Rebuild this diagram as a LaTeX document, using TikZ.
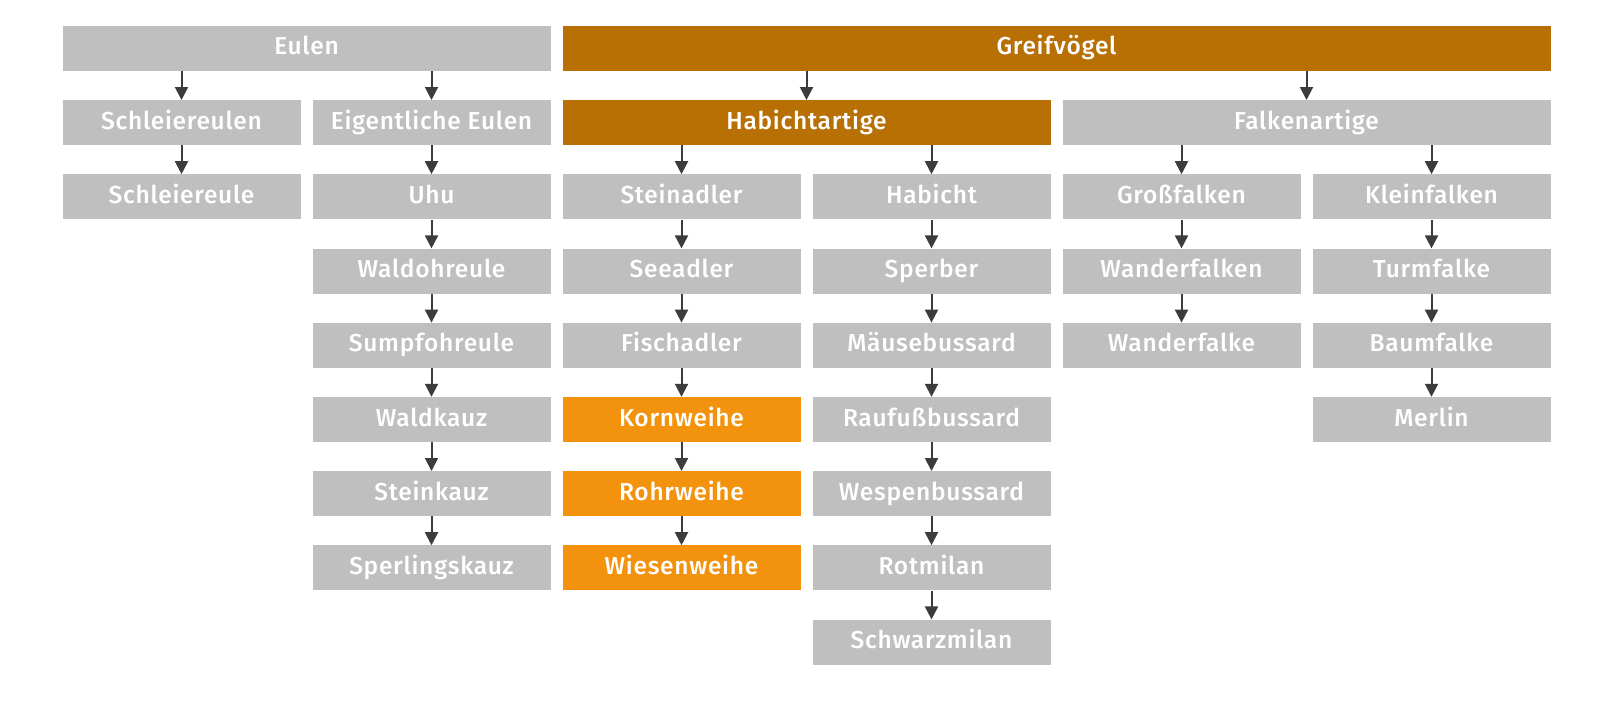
\documentclass[tikz,border=0pt]{standalone}
\usepackage{fontspec}
\setmainfont{Fira Sans}[BoldFont={Fira Sans Medium}, BoldFeatures={LetterSpace=3}]
\usetikzlibrary{arrows.meta}
\definecolor{boxgrey}{RGB}{191,191,191}
\definecolor{darkor}{RGB}{184,112,4}
\definecolor{brightor}{RGB}{243,146,12}
\definecolor{arrowgrey}{RGB}{60,60,60}
\begin{document}
\begin{tikzpicture}[x=1pt,y=-1pt,
  box/.style={fill=boxgrey, text=white, font=\fontsize{24.5}{28}\selectfont\bfseries,
    minimum width=238pt, minimum height=45pt, inner sep=0pt, anchor=center,
    text height=18pt, text depth=5pt},
  wide/.style={minimum width=488pt},
  full/.style={minimum width=988pt},
  dark/.style={fill=darkor},
  hi/.style={fill=brightor},
  arr/.style={draw=arrowgrey, line width=2pt, -{Triangle[width=13pt,length=13pt]}}]
\path[use as bounding box, fill=white] (0,0) rectangle (1600,709);
% row 0
\node[box, wide] (eulen) at (306.5,48.5) {Eulen};
\node[box, dark, full] (greif) at (1056.5,48.5) {Greifvögel};
% row 1
\node[box] (schl) at (181.5,122.7) {Schleiereulen};
\node[box] (eig) at (431.5,122.7) {Eigentliche Eulen};
\node[box, dark, wide] (habart) at (806.5,122.7) {Habichtartige};
\node[box, wide] (falkart) at (1306.5,122.7) {Falkenartige};
% row 2
\node[box] (schle) at (181.5,196.9) {Schleiereule};
\node[box] (uhu) at (431.5,196.9) {Uhu};
\node[box] (stein) at (681.5,196.9) {Steinadler};
\node[box] (habicht) at (931.5,196.9) {Habicht};
\node[box] (gross) at (1181.5,196.9) {Großfalken};
\node[box] (klein) at (1431.5,196.9) {Kleinfalken};
% row 3
\node[box] (waldohr) at (431.5,271.1) {Waldohreule};
\node[box] (see) at (681.5,271.1) {Seeadler};
\node[box] (sperber) at (931.5,271.1) {Sperber};
\node[box] (wanderfn) at (1181.5,271.1) {Wanderfalken};
\node[box] (turm) at (1431.5,271.1) {Turmfalke};
% row 4
\node[box] (sumpf) at (431.5,345.3) {Sumpfohreule};
\node[box] (fisch) at (681.5,345.3) {Fischadler};
\node[box] (maeuse) at (931.5,345.3) {Mäusebussard};
\node[box] (wanderf) at (1181.5,345.3) {Wanderfalke};
\node[box] (baum) at (1431.5,345.3) {Baumfalke};
% row 5
\node[box] (waldkauz) at (431.5,419.5) {Waldkauz};
\node[box, hi] (korn) at (681.5,419.5) {Kornweihe};
\node[box] (rauf) at (931.5,419.5) {Raufußbussard};
\node[box] (merlin) at (1431.5,419.5) {Merlin};
% row 6
\node[box] (steinkauz) at (431.5,493.7) {Steinkauz};
\node[box, hi] (rohr) at (681.5,493.7) {Rohrweihe};
\node[box] (wespen) at (931.5,493.7) {Wespenbussard};
% row 7
\node[box] (sperl) at (431.5,567.9) {Sperlingskauz};
\node[box, hi] (wiesen) at (681.5,567.9) {Wiesenweihe};
\node[box] (rot) at (931.5,567.9) {Rotmilan};
% row 8
\node[box] (schwarz) at (931.5,642.1) {Schwarzmilan};
% branching arrows
\foreach \p/\c in {eulen/schl, eulen/eig, greif/habart, greif/falkart,
                   habart/stein, habart/habicht, falkart/gross, falkart/klein}
  \draw[arr] (\p.south -| \c.north) -- (\c.north);
% chains
\foreach \a/\b in {schl/schle, eig/uhu, uhu/waldohr, waldohr/sumpf, sumpf/waldkauz,
                   waldkauz/steinkauz, steinkauz/sperl,
                   stein/see, see/fisch, fisch/korn, korn/rohr, rohr/wiesen,
                   habicht/sperber, sperber/maeuse, maeuse/rauf, rauf/wespen,
                   wespen/rot, rot/schwarz,
                   gross/wanderfn, wanderfn/wanderf,
                   klein/turm, turm/baum, baum/merlin}
  \draw[arr] (\a.south) -- (\b.north);
\end{tikzpicture}
\end{document}
